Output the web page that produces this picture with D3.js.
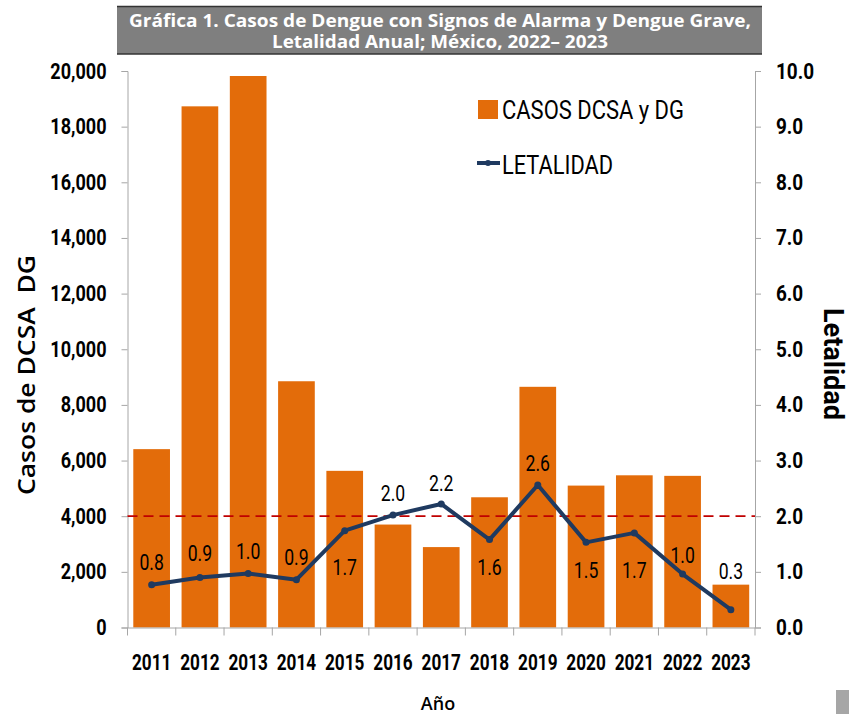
<!DOCTYPE html>
<html>
<head>
<meta charset="utf-8">
<script src="https://cdn.jsdelivr.net/npm/d3@7"></script>
<style>
  body { margin: 0; background: #fff; }
  svg { display: block; }
  .tick text { font-family: Roboto, Arial, sans-serif; font-weight: bold; fill: #000; }
  .domain, .tick line { stroke: #a6a6a6; }
</style>
</head>
<body>
<div id="chart"></div>
<script>
"use strict";

var width = 849;
var height = 714;

var years = ["2011", "2012", "2013", "2014", "2015", "2016", "2017", "2018", "2019", "2020", "2021", "2022", "2023"];
var casos = [6410, 18730, 19820, 8850, 5630, 3700, 2890, 4680, 8650, 5100, 5470, 5450, 1540];
var letalidad = [0.77, 0.90, 0.97, 0.86, 1.74, 2.02, 2.22, 1.58, 2.56, 1.53, 1.70, 0.96, 0.32];
var leftTicks = [0, 2000, 4000, 6000, 8000, 10000, 12000, 14000, 16000, 18000, 20000];
var rightTicks = [0, 1, 2, 3, 4, 5, 6, 7, 8, 9, 10];
var umbral = 2.0;

// desplazamiento vertical de cada etiqueta respecto a su punto
var labelDy = [-15, -16, -15, -15, 44, -14, -13, 35, -14, 36, 45, -11, -31];

var margin = { left: 127.5, right: 94, top: 71, bottom: 86.5 };
var font = "Roboto, Arial, sans-serif";
var orange = "#e36c0a";
var navy = "#1f3a60";

// estrecha el texto para parecerse a Calibri
function condense(sel, f) {
  sel.each(function() {
    var w = this.getComputedTextLength();
    d3.select(this)
      .attr("textLength", w * f)
      .attr("lengthAdjust", "spacingAndGlyphs");
  });
}

var svg = d3.select("#chart")
  .append("svg")
  .attr("width", width)
  .attr("height", height);

var x = d3.scaleBand()
  .domain(years)
  .range([margin.left, width - margin.right])
  .paddingInner(0.24)
  .paddingOuter(0.12);

var yLeft = d3.scaleLinear()
  .domain([0, 20000])
  .range([height - margin.bottom, margin.top]);

var yRight = d3.scaleLinear()
  .domain([0, 10])
  .range([height - margin.bottom, margin.top]);

// titulo
svg.append("rect")
  .attr("x", 117)
  .attr("y", 6)
  .attr("width", 645)
  .attr("height", 48)
  .attr("fill", "#7f7f7f");
svg.append("line")
  .attr("x1", 117).attr("x2", 762)
  .attr("y1", 6.5).attr("y2", 6.5)
  .attr("stroke", "#333").attr("stroke-width", 1.5);
svg.append("line")
  .attr("x1", 117).attr("x2", 762)
  .attr("y1", 54).attr("y2", 54)
  .attr("stroke", "#333").attr("stroke-width", 1.5);

var titulo = ["Gráfica 1. Casos de Dengue con Signos de Alarma y Dengue Grave,",
  "Letalidad Anual; México, 2022– 2023"];
var tituloLargo = [622, 336];
svg.selectAll(".titulo")
  .data(titulo)
  .enter()
  .append("text")
  .attr("class", "titulo")
  .attr("x", 440)
  .attr("y", function(d, i) { return 27 + i * 21; })
  .attr("text-anchor", "middle")
  .attr("fill", "#fff")
  .attr("textLength", function(d, i) { return tituloLargo[i]; })
  .attr("lengthAdjust", "spacingAndGlyphs")
  .style("font-family", "'Open Sans', sans-serif")
  .style("font-weight", "700")
  .style("font-size", "17px")
  .text(function(d) { return d; });

// barras
svg.selectAll(".bar")
  .data(casos)
  .enter()
  .append("rect")
  .attr("class", "bar")
  .attr("x", function(d, i) { return x(years[i]); })
  .attr("y", function(d) { return yLeft(d); })
  .attr("width", x.bandwidth())
  .attr("height", function(d) { return yLeft(0) - yLeft(d); })
  .attr("fill", orange);

// ejes
var axisLeft = svg.append("g")
  .attr("transform", "translate(" + margin.left + ",0)")
  .call(d3.axisLeft(yLeft).tickValues(leftTicks).tickFormat(d3.format(",")).tickSizeOuter(0).tickSize(6).tickPadding(15));
axisLeft.selectAll("text").style("font-size", "22px").call(condense, 0.82);

var axisRight = svg.append("g")
  .attr("transform", "translate(" + (width - margin.right) + ",0)")
  .call(d3.axisRight(yRight).tickValues(rightTicks).tickFormat(d3.format(".1f")).tickSizeOuter(0).tickSize(6).tickPadding(15));
axisRight.selectAll("text").style("font-size", "22px").call(condense, 0.86);

var axisBottom = svg.append("g")
  .attr("transform", "translate(0," + yLeft(0) + ")")
  .call(d3.axisBottom(x).tickSize(0).tickPadding(27));
axisBottom.selectAll("text").style("font-size", "22px").call(condense, 0.78);

// separadores de categoria
var step = x.step();
var bordes = years.map(function(d) { return x(d) - x.paddingInner() * step / 2; });
bordes.push(width - margin.right);
svg.selectAll(".sep")
  .data(bordes)
  .enter()
  .append("line")
  .attr("class", "sep")
  .attr("x1", function(d) { return d; })
  .attr("x2", function(d) { return d; })
  .attr("y1", yLeft(0))
  .attr("y2", yLeft(0) + 8)
  .attr("stroke", "#a6a6a6");

// linea umbral
svg.append("line")
  .attr("x1", margin.left)
  .attr("x2", width - margin.right)
  .attr("y1", yRight(umbral))
  .attr("y2", yRight(umbral))
  .attr("stroke", "#c00000")
  .attr("stroke-width", 1.8)
  .attr("stroke-dasharray", "10,6");

// letalidad
var line = d3.line()
  .x(function(d, i) { return x(years[i]) + x.bandwidth() / 2; })
  .y(function(d) { return yRight(d); });

svg.append("path")
  .datum(letalidad)
  .attr("d", line)
  .attr("fill", "none")
  .attr("stroke", navy)
  .attr("stroke-width", 4)
  .attr("stroke-linejoin", "round");

svg.selectAll(".dot")
  .data(letalidad)
  .enter()
  .append("circle")
  .attr("class", "dot")
  .attr("cx", function(d, i) { return x(years[i]) + x.bandwidth() / 2; })
  .attr("cy", function(d) { return yRight(d); })
  .attr("r", 3.5)
  .attr("fill", navy);

svg.selectAll(".lbl")
  .data(letalidad)
  .enter()
  .append("text")
  .attr("class", "lbl")
  .attr("x", function(d, i) { return x(years[i]) + x.bandwidth() / 2; })
  .attr("y", function(d, i) { return yRight(d) + labelDy[i]; })
  .attr("text-anchor", "middle")
  .style("font-family", font)
  .style("font-size", "22px")
  .text(function(d) { return d3.format(".1f")(d); })
  .call(condense, 0.8);

// leyenda
svg.append("rect")
  .attr("x", 478).attr("y", 100)
  .attr("width", 20).attr("height", 19)
  .attr("fill", orange);
svg.append("text")
  .attr("x", 502).attr("y", 119)
  .attr("textLength", 182)
  .attr("lengthAdjust", "spacingAndGlyphs")
  .style("font-family", font)
  .style("font-size", "25px")
  .text("CASOS DCSA y DG");
svg.append("line")
  .attr("x1", 477).attr("x2", 500)
  .attr("y1", 163).attr("y2", 163)
  .attr("stroke", navy).attr("stroke-width", 4);
svg.append("circle")
  .attr("cx", 488).attr("cy", 163).attr("r", 3)
  .attr("fill", navy);
svg.append("text")
  .attr("x", 502).attr("y", 174)
  .attr("textLength", 111)
  .attr("lengthAdjust", "spacingAndGlyphs")
  .style("font-family", font)
  .style("font-size", "25px")
  .text("LETALIDAD");

// titulos de ejes
svg.append("text")
  .attr("transform", "translate(35,375) rotate(-90)")
  .attr("text-anchor", "middle")
  .attr("textLength", 240)
  .attr("lengthAdjust", "spacingAndGlyphs")
  .style("white-space", "pre")
  .style("font-family", "'Open Sans', sans-serif")
  .style("font-weight", "600")
  .style("font-size", "23px")
  .text("Casos de DCSA  DG");

svg.append("text")
  .attr("transform", "translate(824,364) rotate(90)")
  .attr("text-anchor", "middle")
  .attr("textLength", 112)
  .attr("lengthAdjust", "spacingAndGlyphs")
  .style("font-family", font)
  .style("font-weight", "bold")
  .style("font-size", "27px")
  .text("Letalidad");

svg.append("text")
  .attr("x", 438).attr("y", 710)
  .attr("text-anchor", "middle")
  .style("font-family", "'Open Sans', sans-serif")
  .style("font-weight", "600")
  .style("font-size", "18px")
  .text("Año");

svg.append("rect")
  .attr("x", 836).attr("y", 690)
  .attr("width", 13).attr("height", 24)
  .attr("fill", "#a6a6a6");
</script>
</body>
</html>
